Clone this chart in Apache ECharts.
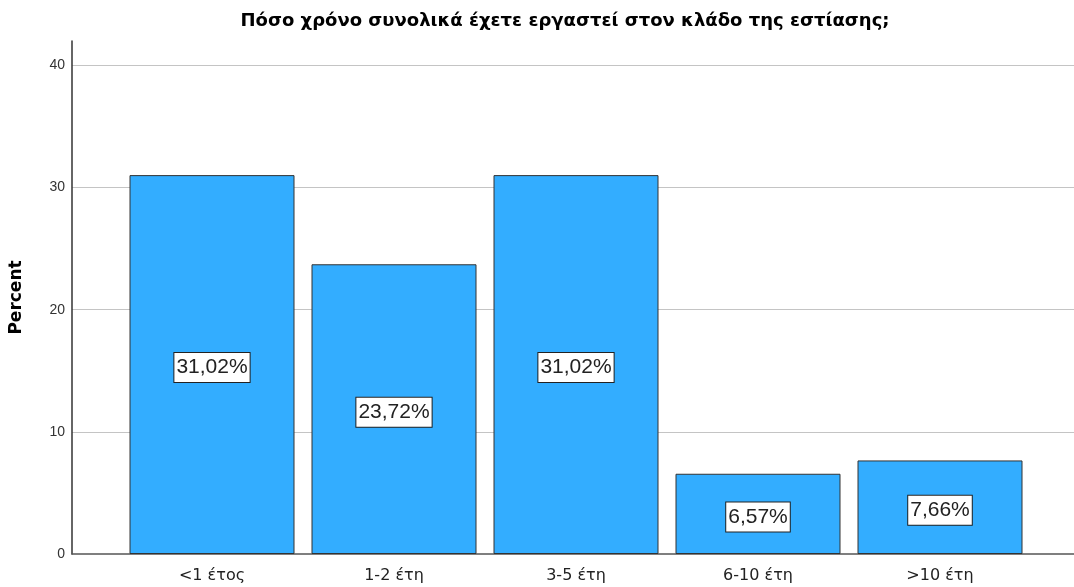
<!DOCTYPE html>
<html><head><meta charset="utf-8">
<script src="https://cdn.jsdelivr.net/npm/echarts@6/dist/echarts.min.js"></script>
<style>html,body{margin:0;padding:0;background:#fff}#c{width:1074px;height:587px}</style>
</head><body><div id="c"></div>
<script>
const categories = ['<1 έτος', '1-2 έτη', '3-5 έτη', '6-10 έτη', '>10 έτη'];
const percents = [31.02, 23.72, 31.02, 6.57, 7.66];
const yTicks = [0, 10, 20, 30, 40];
const titleText = 'Πόσο χρόνο συνολικά έχετε εργαστεί στον κλάδο της εστίασης;';
const yName = 'Percent';

const FONT = '"Liberation Sans", Arial, sans-serif';
const WIDE = '"DejaVu Sans", sans-serif';
const chart = echarts.init(document.getElementById('c'));
chart.setOption({
  animation: false,
  textStyle: { fontFamily: FONT },
  title: {
    text: titleText, left: 560, top: 7, textAlign: 'center',
    textStyle: { fontFamily: WIDE, fontSize: 18, fontWeight: 'bold', color: '#000' }
  },
  grid: [
    { left: 70, right: 0, top: 41, bottom: 33 },
    { left: 121, right: 43, top: 41, bottom: 33 }
  ],
  xAxis: [
    { gridIndex: 0, type: 'category', data: [''], axisLine: { show: true, lineStyle: { color: '#555', width: 1.5 } },
      axisTick: { show: false }, axisLabel: { show: false } },
    { gridIndex: 1, type: 'category', data: categories, axisLine: { show: false }, axisTick: { show: false },
      axisLabel: { fontSize: 16, color: '#222', margin: 14, fontFamily: WIDE } }
  ],
  yAxis: [
    { gridIndex: 0, type: 'value', min: 0, max: 42, interval: 10,
      name: yName, nameLocation: 'middle', nameGap: 47, nameRotate: 90,
      nameTextStyle: { fontSize: 17, fontWeight: 'bold', color: '#000', fontFamily: WIDE },
      axisLine: { show: true, lineStyle: { color: '#333', width: 1.5 } }, axisTick: { show: false },
      axisLabel: { fontSize: 14, color: '#333', margin: 7, showMaxLabel: false, fontFamily: FONT,
        formatter: v => (yTicks.indexOf(v) >= 0 ? String(v) : '') },
      splitLine: { show: true, showMinLine: false, showMaxLine: false, lineStyle: { color: '#c4c4c4', width: 1 } } },
    { gridIndex: 1, type: 'value', min: 0, max: 42, interval: 10, show: false, splitLine: { show: false } }
  ],
  series: [{
    type: 'bar', xAxisIndex: 1, yAxisIndex: 1, data: percents, barWidth: 165,
    itemStyle: { color: '#33adff', borderColor: '#333', borderWidth: 1 },
    label: {
      show: true, position: 'inside', offset: [0, 3], fontSize: 21, color: '#222', fontFamily: FONT,
      backgroundColor: '#fff', borderColor: '#222', borderWidth: 1, padding: [5, 2, 3, 2],
      formatter: p => p.value.toFixed(2).replace('.', ',') + '%'
    }
  }]
});
</script></body></html>
